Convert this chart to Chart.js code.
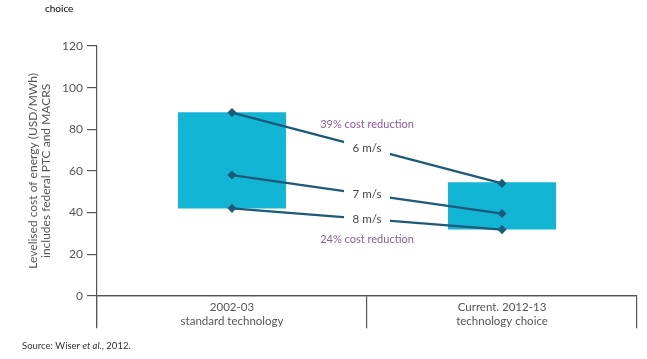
<!DOCTYPE html>
<html>
<head>
<meta charset="utf-8">
<script src="https://cdn.jsdelivr.net/npm/chart.js@4/dist/chart.umd.min.js"></script>
<style>
  html, body { margin: 0; padding: 0; background: #fff; }
  #wrap { width: 647px; height: 359px; position: relative; }
</style>
</head>
<body>
<div id="wrap"><canvas id="c" width="647" height="359"></canvas></div>
<script>
// ---- data ----
const categories = [["2002-03", "standard technology"], ["Current. 2012-13", "technology choice"]];
const boxLow = [41.9, 31.8];
const boxHigh = [88.2, 54.5];
const wind6 = [88, 54];
const wind7 = [58, 39.5];
const wind8 = [42, 31.8];
const windLabels = ["6 m/s", "7 m/s", "8 m/s"];
const reductionLabels = ["39% cost reduction", "24% cost reduction"];
const yTitle = ["Levelised cost of energy (USD/MWh)", "includes federal PTC and MACRS"];
const yTicks = [0, 20, 40, 60, 80, 100, 120];

const FONT = "Lato";
const GRAY = "#555555";
const LINE = "#1c5a7a";
const BOX = "#13b5d4";
const PURPLE = "#8e5a9e";

const lineDs = (data, label) => ({
  type: "line", label, data,
  borderColor: LINE, backgroundColor: LINE, borderWidth: 2.2,
  pointStyle: "rectRot", pointRadius: 3, pointHoverRadius: 3,
  pointBackgroundColor: LINE, pointBorderColor: LINE, order: 1, tension: 0
});

const annot = {
  id: "annot",
  afterDatasetsDraw(chart) {
    const ctx = chart.ctx;
    ctx.save();
    ctx.font = `11.5px ${FONT}`;
    ctx.textAlign = "center";
    ctx.textBaseline = "middle";
    const mids = [];
    [1, 2, 3].forEach((di, i) => {
      const pts = chart.getDatasetMeta(di).data;
      const mx = (pts[0].x + pts[1].x) / 2, my = (pts[0].y + pts[1].y) / 2;
      mids.push({x: mx, y: my});
      ctx.fillStyle = "#fff";
      ctx.fillRect(mx - 23, my - 7, 46, 14);
      ctx.fillStyle = "#444";
      ctx.fillText(windLabels[i], mx, my);
    });
    ctx.font = `11px ${FONT}`;
    ctx.fillStyle = PURPLE;
    ctx.fillText(reductionLabels[0], mids[0].x, mids[0].y - 24);
    ctx.fillText(reductionLabels[1], mids[2].x, mids[2].y + 20);
    ctx.restore();
  },
  afterDraw(chart) {
    const ctx = chart.ctx;
    const ys = chart.scales.y;
    ctx.save();
    // y title
    const cy = ys.getPixelForValue(60);
    ctx.translate(33, cy);
    ctx.rotate(-Math.PI / 2);
    ctx.fillStyle = GRAY;
    ctx.font = `12px ${FONT}`;
    ctx.textAlign = "center";
    ctx.textBaseline = "middle";
    ctx.fillText(yTitle[0], 0, 0);
    ctx.fillText(yTitle[1], 0, 13);
    ctx.restore();
    // source
    ctx.save();
    ctx.fillStyle = "#333";
    ctx.textBaseline = "middle";
    ctx.textAlign = "left";
    let x = 22; const y = 346;
    const parts = [["Source: Wiser ", "normal"], ["et al.", "italic"], [", 2012.", "normal"]];
    parts.forEach(([t, st]) => {
      ctx.font = `${st} 9.5px ${FONT}`;
      ctx.fillText(t, x, y);
      x += ctx.measureText(t).width;
    });
    ctx.font = `10px ${FONT}`;
    ctx.fillStyle = "#000";
    ctx.fillText("choice", 45, 9);
    ctx.restore();
  }
};

new Chart(document.getElementById("c"), {
  data: {
    labels: categories,
    datasets: [
      { type: "bar", label: "range", data: boxLow.map((v, i) => [v, boxHigh[i]]),
        backgroundColor: BOX, borderWidth: 0, barPercentage: 0.4, categoryPercentage: 1, order: 2 },
      lineDs(wind6, windLabels[0]),
      lineDs(wind7, windLabels[1]),
      lineDs(wind8, windLabels[2])
    ]
  },
  options: {
    responsive: false,
    animation: false,
    events: [],
    layout: { padding: { left: 0, top: 46, right: 10, bottom: 32 } },
    plugins: { legend: { display: false }, tooltip: { enabled: false }, title: { display: false } },
    scales: {
      x: {
        type: "category",
        position: { y: 0 },
        offset: true,
        grid: { offset: true, drawOnChartArea: false, tickLength: 32, color: GRAY, lineWidth: 1.2 },
        border: { display: true, color: GRAY, width: 1.2 },
        ticks: { color: GRAY, font: { family: FONT, size: 11.5 }, padding: -27, maxRotation: 0 }
      },
      y: {
        min: -15, max: 120,
        afterFit(s) { s.width = 97; },
        afterBuildTicks(s) { s.ticks = yTicks.map(v => ({ value: v })); },
        grid: {
          drawOnChartArea: true, tickLength: 10,
          color: c => (c.tick && c.tick.value === 0) ? GRAY : "rgba(0,0,0,0)",
          tickColor: GRAY, lineWidth: 1.2
        },
        border: { display: true, color: GRAY, width: 1.2 },
        ticks: { color: GRAY, font: { family: FONT, size: 12 }, padding: 4 }
      }
    }
  },
  plugins: [annot]
});
</script>
</body>
</html>
